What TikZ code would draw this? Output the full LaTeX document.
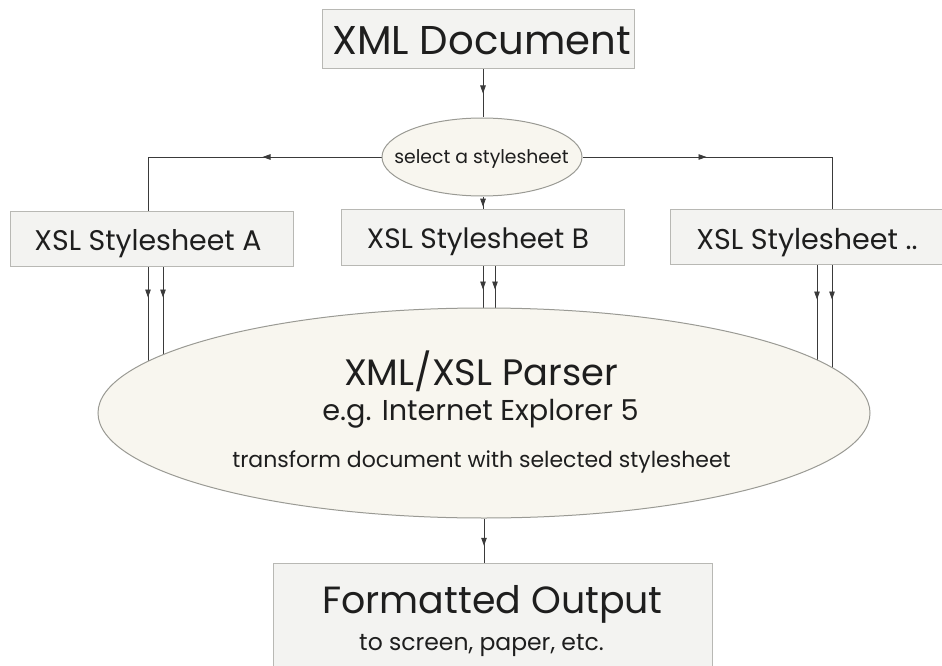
\documentclass[tikz,border=0pt]{standalone}
\usepackage{fontspec}
\setmainfont{Poppins}
\usetikzlibrary{shapes.geometric,decorations.markings,arrows.meta,backgrounds}
\definecolor{boxfill}{HTML}{F3F3F1}
\definecolor{boxline}{HTML}{B8B8B4}
\definecolor{ellfill}{HTML}{F8F6EF}
\definecolor{ellline}{HTML}{9A9A94}
\definecolor{wire}{HTML}{3A3A3A}
\definecolor{ink}{HTML}{1E1E1E}
\tikzset{
  boxnode/.style={draw=boxline,fill=boxfill,line width=1pt,inner sep=0pt,text=ink},
  ellnode/.style={ellipse,draw=ellline,fill=ellfill,line width=1pt,inner sep=0pt,text=ink},
  wireline/.style={draw=wire,line width=0.9pt},
  label/.style={anchor=base,text=ink,inner sep=0pt},
  marrow/.style={postaction={decorate},decoration={markings,mark=at position #1 with {\arrow{Triangle[length=8pt,width=5.5pt]}}}}
}
\begin{document}
\begin{tikzpicture}[x=1pt,y=-1pt]
\useasboundingbox (0,0) rectangle (942,666);
% boxes
\node[boxnode,minimum width=312pt,minimum height=59pt] (xml) at (478,39.5) {};
\node[ellnode,minimum width=200pt,minimum height=78pt] (sel) at (482,157) {};
\node[boxnode,minimum width=283pt,minimum height=55pt] (sa) at (151.5,238.5) {};
\node[boxnode,minimum width=283pt,minimum height=56pt] (sb) at (482.5,237) {};
\node[boxnode,minimum width=272pt,minimum height=55pt] (sc) at (806,236.5) {};
\node[ellnode,minimum width=772pt,minimum height=210pt] (par) at (484,413) {};
\node[boxnode,minimum width=439pt,minimum height=140pt] (out) at (492.5,633) {};
% texts
\node[label,font=\fontsize{40.2}{40}\selectfont] (txml) at (481.5,55) {XML Document};
\node[label,font=\fontsize{18.8}{19}\selectfont] (tsel) at (481.5,163) {select a stylesheet};
\node[label,font=\fontsize{28.4}{28}\selectfont] (tsa) at (148,250) {XSL Stylesheet A};
\node[label,font=\fontsize{28}{28}\selectfont] (tsb) at (478,248) {XSL Stylesheet B};
\node[label,font=\fontsize{28.6}{28}\selectfont] (tsc) at (807,249) {XSL Stylesheet ..};
\node[label,font=\fontsize{36.8}{37}\selectfont] (tp1) at (481,385) {XML/XSL Parser};
\node[label,font=\fontsize{28.7}{29}\selectfont] (tp2) at (480.5,420) {e.g. Internet Explorer 5};
\node[label,font=\fontsize{22}{22}\selectfont] (tp3) at (481.5,467) {transform document with selected stylesheet};
\node[label,font=\fontsize{37.9}{38}\selectfont] (to1) at (492.5,613) {Formatted Output};
\node[label,font=\fontsize{23.5}{24}\selectfont] (to2) at (481.5,650) {to screen, paper, etc.};
% connectors (behind shapes)
\begin{scope}[on background layer]
\draw[wireline,marrow=0.5] ([xshift=5pt]xml.south) -- ([xshift=5pt]xml.south |- sel.north);
\draw[wireline,marrow=119pt] (sel.west) -| ([xshift=-3.5pt]sa.north);
\draw[wireline,marrow=124pt] (sel.east) -| ([xshift=26pt]sc.north);
\draw[wireline,marrow=0.85] ([xshift=1pt]sel.south) -- ([xshift=0.5pt]sb.north);
\draw[wireline,marrow=31pt] ([xshift=-3.5pt]sa.south) -- ++(0,130);
\draw[wireline,marrow=31pt] ([xshift=11.5pt]sa.south) -- ++(0,130);
\draw[wireline,marrow=24pt] ([xshift=0.5pt]sb.south) -- ++(0,80);
\draw[wireline,marrow=24pt] ([xshift=12.5pt]sb.south) -- ++(0,80);
\draw[wireline,marrow=35pt] ([xshift=11pt]sc.south) -- ++(0,130);
\draw[wireline,marrow=35pt] ([xshift=26pt]sc.south) -- ++(0,130);
\draw[wireline,marrow=0.62] (par.south) -- (par.south |- out.north);
\end{scope}
\end{tikzpicture}
\end{document}
